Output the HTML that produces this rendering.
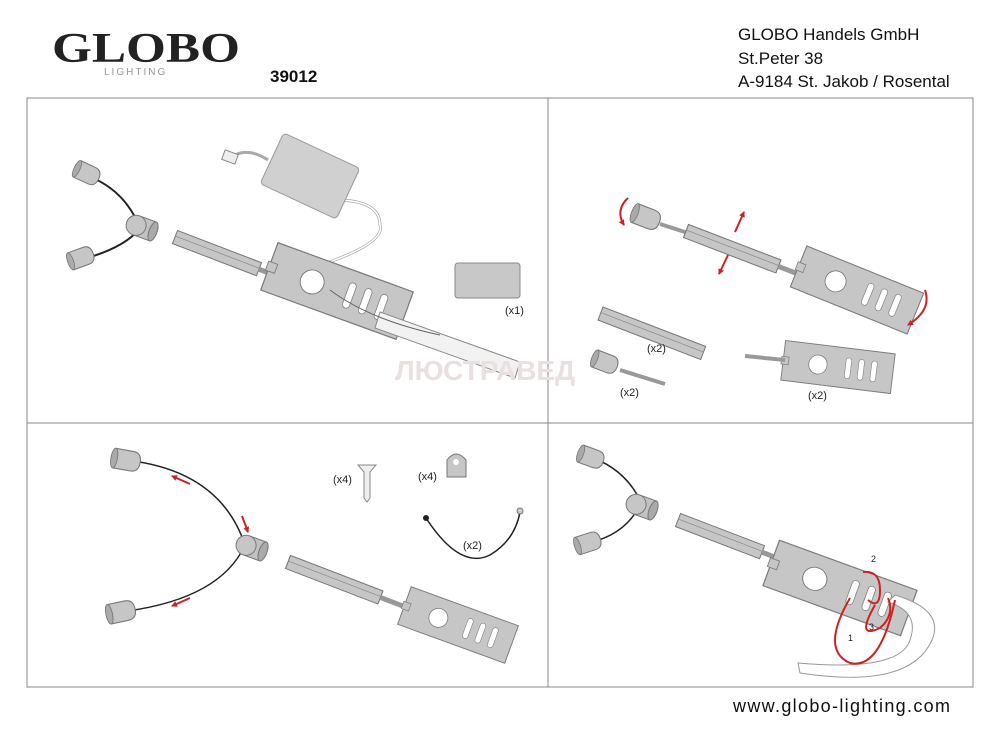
<!DOCTYPE html>
<html><head><meta charset="utf-8"><style>
html,body{margin:0;padding:0;background:#fff}
svg{display:block}
</style></head><body>
<svg width="1000" height="737" viewBox="0 0 1000 737" xmlns="http://www.w3.org/2000/svg" font-family="Liberation Sans, Arial, sans-serif">
<defs>
<marker id="ah" markerWidth="6" markerHeight="6" refX="5" refY="3" orient="auto" markerUnits="userSpaceOnUse"><path d="M0,0 L6,3 L0,6 Z" fill="#c22"/></marker>
<g id="plate">
<rect x="-60" y="-21" width="120" height="42" fill="#c6c6c6" stroke="#7a7a7a" stroke-width="1"/>
<circle cx="-22" cy="0" r="10" fill="#fff" stroke="#7a7a7a" stroke-width="0.8"/>
<rect x="8" y="-11" width="6" height="22" rx="3" fill="#fff" stroke="#7a7a7a" stroke-width="0.6"/>
<rect x="22" y="-11" width="6" height="22" rx="3" fill="#fff" stroke="#7a7a7a" stroke-width="0.6"/>
<rect x="36" y="-11" width="6" height="22" rx="3" fill="#fff" stroke="#7a7a7a" stroke-width="0.6"/>
<rect x="-62" y="-4" width="8" height="8" fill="#c6c6c6" stroke="#7a7a7a" stroke-width="0.7"/>
</g>
<g id="tube">
<rect x="0" y="-7" width="90" height="14" fill="#c6c6c6" stroke="#777" stroke-width="1"/>
<line x1="0" y1="-1" x2="90" y2="-1" stroke="#888" stroke-width="0.7"/>
<line x1="90" y1="0" x2="116" y2="0" stroke="#999" stroke-width="5"/>
</g>
<g id="cap">
<path d="M-10,-9 L6,-9 Q14,-9 14,0 Q14,9 6,9 L-10,9 Z" fill="#c6c6c6" stroke="#777" stroke-width="1"/>
<ellipse cx="-10" cy="0" rx="3" ry="9" fill="#aaa" stroke="#777" stroke-width="0.8"/>
</g>
<g id="yc">
<rect x="-2" y="-10" width="18" height="20" fill="#c2c2c2" stroke="#777"/>
<ellipse cx="16" cy="0" rx="4" ry="10" fill="#aaa" stroke="#777"/>
<circle cx="-2" cy="0" r="10" fill="#c6c6c6" stroke="#777"/>
</g>
</defs>

<!-- header -->
<text x="52" y="62" font-size="42" font-weight="bold" style="font-family:'Liberation Serif',serif" fill="#222" textLength="188" lengthAdjust="spacingAndGlyphs">GLOBO</text>
<text x="104" y="75" font-size="10" fill="#999" letter-spacing="2">LIGHTING</text>
<text x="270" y="82" font-size="17" font-weight="bold" fill="#111">39012</text>
<text x="738" y="40" font-size="17" fill="#111">GLOBO Handels GmbH</text>
<text x="738" y="64" font-size="17" fill="#111">St.Peter 38</text>
<text x="738" y="87" font-size="17" fill="#111">A-9184 St. Jakob / Rosental</text>
<text x="733" y="712" font-size="18" fill="#111" textLength="217">www.globo-lighting.com</text>

<!-- frame -->
<rect x="27" y="98" width="946" height="589" fill="none" stroke="#888" stroke-width="1"/>
<line x1="548" y1="98" x2="548" y2="687" stroke="#888"/>
<line x1="27" y1="423" x2="973" y2="423" stroke="#888"/>

<!-- panel 1 -->
<path d="M335,200 Q380,200 380,225 Q385,240 340,258 Q320,265 320,270" fill="none" stroke="#aaa" stroke-width="3"/>
<path d="M335,200 Q380,200 380,225 Q385,240 340,258 Q320,265 320,270" fill="none" stroke="#fff" stroke-width="1.5"/>
<path d="M268,160 Q250,148 235,155" fill="none" stroke="#aaa" stroke-width="3"/>
<rect x="223" y="152" width="14" height="10" fill="#eee" stroke="#888" transform="rotate(20 230 157)"/>
<rect x="-42" y="-28" width="84" height="56" rx="4" fill="#d0d0d0" stroke="#999" transform="translate(310,176) rotate(25)"/>
<path d="M88,176 Q125,190 140,228 M80,260 Q125,248 140,228" fill="none" stroke="#222" stroke-width="2"/>
<use href="#cap" transform="translate(86,173) rotate(25)"/>
<use href="#cap" transform="translate(80,258) rotate(-20)"/>
<use href="#yc" transform="translate(138,226) rotate(20)"/>
<use href="#tube" transform="translate(175,237) rotate(21)"/>
<use href="#plate" transform="translate(337,291) rotate(20) scale(1.2)"/>
<path d="M380,312 L520,362 L515,378 L375,328 Z" fill="#f2f2f2" stroke="#888"/>
<path d="M330,290 Q370,320 440,335" fill="none" stroke="#666" stroke-width="1"/>
<rect x="455" y="263" width="65" height="35" rx="3" fill="#c8c8c8" stroke="#888"/>
<text x="505" y="314" font-size="11" fill="#222">(x1)</text>
<text x="395" y="380" font-size="28" font-weight="bold" fill="#ebe0e0">ЛЮСТРАВЕД</text>

<!-- panel 2 -->
<use href="#cap" transform="translate(645,217) rotate(21) scale(1.1)"/>
<line x1="660" y1="224" x2="688" y2="233" stroke="#999" stroke-width="4"/>
<use href="#tube" transform="translate(686,231) rotate(21) scale(1.1,1)"/>
<use href="#plate" transform="translate(857,290) rotate(22) scale(1.05)"/>
<path d="M628,198 Q615,210 624,225" fill="none" stroke="#c22" stroke-width="2" marker-end="url(#ah)"/>
<path d="M735,232 L744,212" stroke="#c22" stroke-width="2" marker-end="url(#ah)"/>
<path d="M728,255 L719,274" stroke="#c22" stroke-width="2" marker-end="url(#ah)"/>
<path d="M925,290 Q932,310 908,325" fill="none" stroke="#c22" stroke-width="2" marker-end="url(#ah)"/>
<g transform="translate(603,307) rotate(21)"><rect width="110" height="14" fill="#c6c6c6" stroke="#777"/><line x1="0" y1="6" x2="110" y2="6" stroke="#888" stroke-width="0.7"/></g>
<text x="647" y="352" font-size="11" fill="#222">(x2)</text>
<use href="#cap" transform="translate(604,362) rotate(21)"/>
<line x1="620" y1="370" x2="665" y2="384" stroke="#999" stroke-width="4"/>
<text x="620" y="396" font-size="11" fill="#222">(x2)</text>
<use href="#plate" transform="translate(838,367) rotate(7) scale(0.92,0.95)"/>
<line x1="745" y1="356" x2="785" y2="360" stroke="#999" stroke-width="4"/>
<text x="808" y="399" font-size="11" fill="#222">(x2)</text>

<!-- panel 3 -->
<path d="M125,460 Q220,470 245,545 M120,612 Q220,600 245,545" fill="none" stroke="#222" stroke-width="1.5"/>
<use href="#cap" transform="translate(125,460) rotate(10) scale(1.1)"/>
<use href="#cap" transform="translate(120,612) rotate(-12) scale(1.1)"/>
<use href="#yc" transform="translate(248,546) rotate(20)"/>
<use href="#tube" transform="translate(288,562) rotate(21) scale(1.1,1)"/>
<use href="#plate" transform="translate(458,625) rotate(20) scale(0.95)"/>
<path d="M190,484 L172,476" stroke="#c22" stroke-width="2" marker-end="url(#ah)"/>
<path d="M190,598 L172,606" stroke="#c22" stroke-width="2" marker-end="url(#ah)"/>
<path d="M242,516 L248,532" stroke="#c22" stroke-width="2" marker-end="url(#ah)"/>
<path d="M358,465 L376,465 L370,472 L370,498 L367,502 L364,498 L364,472 Z" fill="#eee" stroke="#888"/>
<text x="333" y="483" font-size="11" fill="#222">(x4)</text>
<path d="M447,477 L447,460 Q456,448 466,460 L466,477 Z" fill="#c6c6c6" stroke="#777"/>
<circle cx="456" cy="462" r="3" fill="#fff"/>
<text x="418" y="480" font-size="11" fill="#222">(x4)</text>
<path d="M426,518 Q460,570 490,555 Q515,540 520,512" fill="none" stroke="#222" stroke-width="1.5"/>
<circle cx="426" cy="518" r="3" fill="#222"/><circle cx="520" cy="511" r="3" fill="#ccc" stroke="#777"/>
<text x="463" y="549" font-size="11" fill="#222">(x2)</text>

<!-- panel 4 -->
<path d="M593,458 Q625,470 640,500 M588,543 Q625,535 640,505" fill="none" stroke="#222" stroke-width="1.5"/>
<use href="#cap" transform="translate(590,457) rotate(20)"/>
<use href="#cap" transform="translate(587,543) rotate(-18)"/>
<use href="#yc" transform="translate(638,505) rotate(20)"/>
<use href="#tube" transform="translate(678,520) rotate(21)"/>
<use href="#plate" transform="translate(840,588) rotate(20) scale(1.22,1.15)"/>
<path d="M895,595 Q945,610 932,640 Q910,690 800,673 L798,663 Q900,672 910,640 Q920,612 888,602 Z" fill="#fff" stroke="#999"/>
<path d="M863,572 Q880,570 880,590 Q880,610 868,600 M850,598 Q820,650 850,663 Q880,670 895,600 M875,605 Q855,640 880,628 Q895,615 888,598" fill="none" stroke="#c22" stroke-width="2"/>
<text x="871" y="562" font-size="9" fill="#222">2</text>
<text x="848" y="641" font-size="9" fill="#222">1</text>
<text x="869" y="630" font-size="9" fill="#222">3</text>
</svg>
</body></html>
